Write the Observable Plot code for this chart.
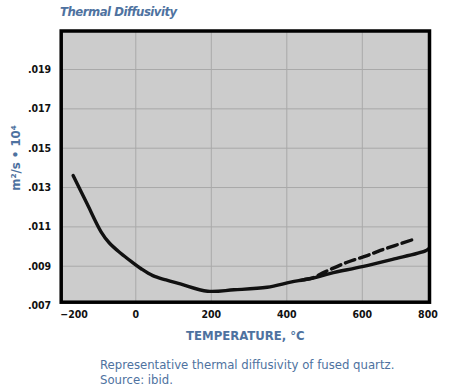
<!DOCTYPE html>
<html>
<head>
<meta charset="utf-8">
<script src="https://cdn.jsdelivr.net/npm/d3@7"></script>
<script src="https://cdn.jsdelivr.net/npm/@observablehq/plot@0.6"></script>
<style>
  body { margin: 0; background: #fff; }
  #wrap { position: relative; width: 449px; height: 392px; overflow: hidden;
    font-family: "Liberation Sans Narrow", "DejaVu Sans Condensed", "Arial Narrow", sans-serif; font-stretch: condensed; }
  .blue { color: #4e72a0; }
  #title { position: absolute; left: 60px; top: 4px; font-size: 13px; font-weight: bold; font-style: italic; letter-spacing: -0.5px; white-space: nowrap; }
  #ylab { position: absolute; left: 15px; top: 158px; transform: translate(-50%, -50%) rotate(-90deg); font-size: 13px; font-weight: bold; white-space: nowrap; }
  #chart { position: absolute; left: 0; top: 24px; }
  #caption { position: absolute; left: 100px; top: 357px; font-size: 13px; line-height: 15px; white-space: nowrap; }
</style>
</head>
<body>
<div id="wrap">
  <div id="title" class="blue">Thermal Diffusivity</div>
  <div id="ylab" class="blue">m²/s • 10⁴</div>
  <div id="chart"></div>
  <div id="caption" class="blue">Representative thermal diffusivity of fused quartz.<br>Source: ibid.</div>
</div>
<script>
// Solid curve (temperature °C, diffusivity)
const solidTemp = [-166, -129, -92, -70, -40, -10, 15, 45, 80, 118, 190, 260, 348, 410, 445, 472, 516, 600, 680, 767, 775];
const solidDiff = [0.01361, 0.01217, 0.01075, 0.01018, 0.00966, 0.00921, 0.00886, 0.00852, 0.0083, 0.0081, 0.00773, 0.0078, 0.00793, 0.00819, 0.00831, 0.00841, 0.00864, 0.00898, 0.00935, 0.00978, 0.00988];
// Dashed branch
const dashTemp = [445, 472, 500, 560, 613, 648, 732];
const dashDiff = [0.00831, 0.00843, 0.0087, 0.0092, 0.00954, 0.0098, 0.01034];
// Ticks
const xTicks = [0, 200, 400, 600];
const xTickFirst = [-200];
const xTickLast = [800];
const yTicks = [0.007, 0.009, 0.011, 0.013, 0.015, 0.017, 0.019];
const yGrid = [0.009, 0.011, 0.013, 0.015, 0.017, 0.019];
const xLabel = "TEMPERATURE, °C";

const solid = solidTemp.map((t, i) => ({t, d: solidDiff[i]}));
const dashed = dashTemp.map((t, i) => ({t, d: dashDiff[i]}));
const fmtY = v => d3.format(".3f")(v).replace(/^0/, "");
const font = '"Liberation Sans Narrow", "DejaVu Sans Condensed", sans-serif';

const chart = Plot.plot({
  width: 449,
  height: 326,
  marginLeft: 60.7,
  marginRight: 20,
  marginTop: 6.5,
  marginBottom: 48.3,
  style: { fontFamily: font, fontSize: "10.5px", fontWeight: "bold", color: "#111", background: "transparent" },
  x: { domain: [-197.6, 778] },
  y: { domain: [0.00717, 0.020958] },
  marks: [
    Plot.frame({ fill: "#cccccc" }),
    Plot.ruleX(xTicks, { stroke: "#a9a9a9", strokeWidth: 1 }),
    Plot.ruleY(yGrid, { stroke: "#a9a9a9", strokeWidth: 1 }),
    Plot.line(dashed, { x: "t", y: "d", stroke: "#111", strokeWidth: 3.4, strokeDasharray: "10,5", curve: "catmull-rom" }),
    Plot.line(solid, { x: "t", y: "d", stroke: "#111", strokeWidth: 3.4, curve: "catmull-rom" }),
    Plot.frame({ stroke: "#000", strokeWidth: 3.5 }),
    Plot.axisX(xTicks, { tickSize: 0, tickPadding: 8, label: null }),
    Plot.axisX(xTickFirst, { tickSize: 0, tickPadding: 8, label: null, textAnchor: "start" }),
    Plot.axisX(xTickLast, { tickSize: 0, tickPadding: 8, label: null, textAnchor: "end" }),
    Plot.axisY(yTicks, { tickSize: 0, tickPadding: 10, label: null, tickFormat: fmtY }),
    Plot.text([xLabel], { frameAnchor: "bottom", dy: 38, fill: "#4e72a0", fontSize: 13, fontWeight: "bold", style: "letter-spacing:-0.3px" })
  ]
});
document.getElementById("chart").appendChild(chart);
</script>
</body>
</html>
